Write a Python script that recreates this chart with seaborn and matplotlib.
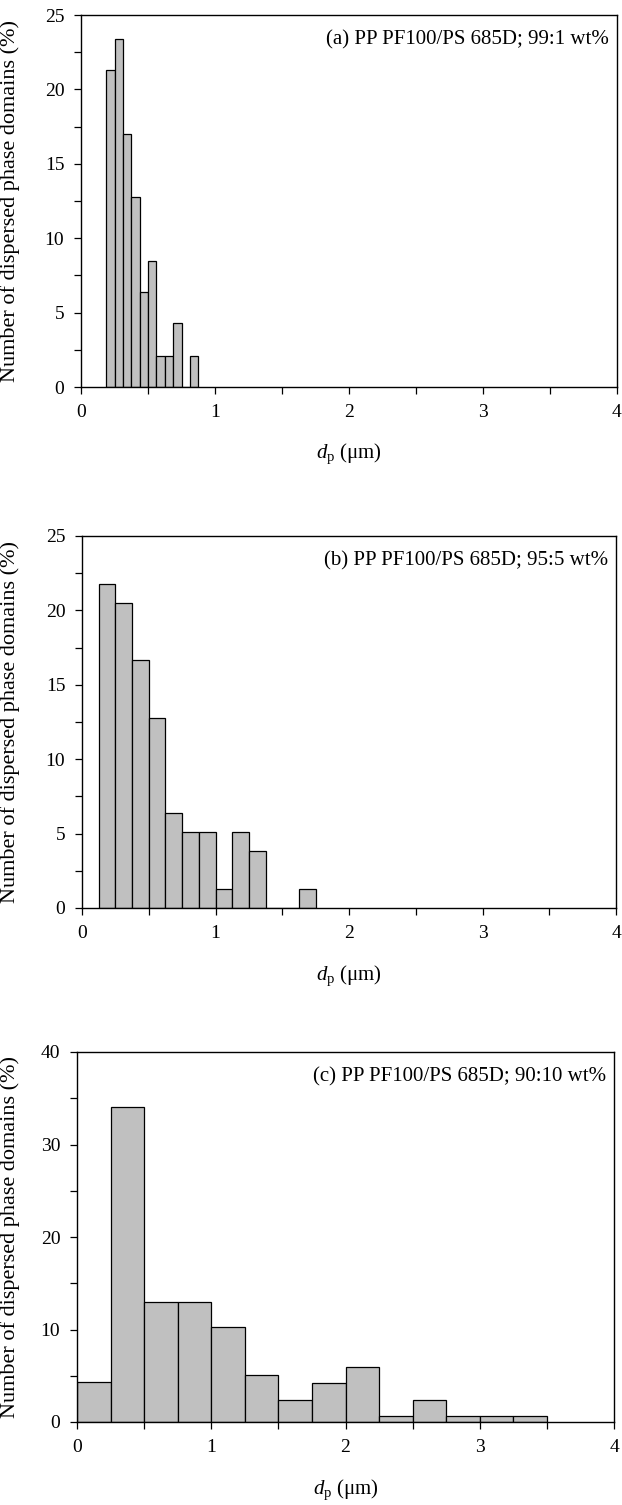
import matplotlib
matplotlib.use("Agg")
import matplotlib.pyplot as plt
from matplotlib.ticker import MultipleLocator
import seaborn as sns

# ---- data: size distributions of the dispersed PS phase (percent of domains per size class) ----
# (a) PP PF100/PS 685D; 99:1 wt%
a_edges = [0.1875, 0.25, 0.3125, 0.375, 0.4375, 0.5, 0.5625, 0.625, 0.6875, 0.75, 0.8125, 0.875]
a_centers = [0.21875, 0.28125, 0.34375, 0.40625, 0.46875, 0.53125, 0.59375, 0.65625,
             0.71875, 0.78125, 0.84375]
a_pct = [21.3, 23.4, 17.0, 12.8, 6.4, 8.5, 2.1, 2.1, 4.3, 0.0, 2.1]

# (b) PP PF100/PS 685D; 95:5 wt%
b_edges = [0.125, 0.25, 0.375, 0.5, 0.625, 0.75, 0.875, 1.0, 1.125, 1.25, 1.375, 1.5, 1.625, 1.75]
b_centers = [0.1875, 0.3125, 0.4375, 0.5625, 0.6875, 0.8125, 0.9375, 1.0625, 1.1875,
             1.3125, 1.4375, 1.5625, 1.6875]
b_pct = [21.8, 20.5, 16.7, 12.8, 6.4, 5.1, 5.1, 1.3, 5.1, 3.8, 0.0, 0.0, 1.3]

# (c) PP PF100/PS 685D; 90:10 wt%
c_edges = [0.0, 0.25, 0.5, 0.75, 1.0, 1.25, 1.5, 1.75, 2.0, 2.25, 2.5, 2.75, 3.0, 3.25, 3.5]
c_centers = [0.125, 0.375, 0.625, 0.875, 1.125, 1.375, 1.625, 1.875, 2.125, 2.375,
             2.625, 2.875, 3.125, 3.375]
c_pct = [4.3, 34.1, 13.0, 13.0, 10.3, 5.1, 2.4, 4.2, 5.9, 0.7, 2.4, 0.6, 0.6, 0.6]

titles = ["(a) PP PF100/PS 685D; 99:1 wt%",
          "(b) PP PF100/PS 685D; 95:5 wt%",
          "(c) PP PF100/PS 685D; 90:10 wt%"]
y_max = [25, 25, 40]
y_major = [5, 5, 10]

sns.set_theme(style="ticks")
plt.rcParams["font.family"] = ["Liberation Serif", "DejaVu Serif"]
plt.rcParams["mathtext.fontset"] = "custom"
plt.rcParams["mathtext.rm"] = "Liberation Serif"
plt.rcParams["mathtext.it"] = "Liberation Serif:italic"

W, H = 622, 1505
fig = plt.figure(figsize=(W / 100, H / 100), dpi=100)

# axes boxes in pixels: left, right, top, bottom
boxes = [(81, 617, 15, 387), (82, 616, 536, 908), (77, 614, 1052, 1422)]
datasets = [(a_centers, a_pct, a_edges), (b_centers, b_pct, b_edges), (c_centers, c_pct, c_edges)]

bar_grey = "#c0c0c0"
for (l, r, t, b), (cx, pct, edges), title, ymax, ymaj in zip(boxes, datasets, titles, y_max, y_major):
    ax = fig.add_axes([l / W, 1 - b / H, (r - l) / W, (b - t) / H])
    sns.histplot(x=cx, weights=pct, bins=edges, ax=ax, color=bar_grey,
                 edgecolor="black", linewidth=0.9, alpha=1.0)
    ax.set_xlim(0, 4)
    ax.set_ylim(0, ymax)
    ax.xaxis.set_major_locator(MultipleLocator(1))
    ax.xaxis.set_minor_locator(MultipleLocator(0.5))
    ax.yaxis.set_major_locator(MultipleLocator(ymaj))
    ax.yaxis.set_minor_locator(MultipleLocator(ymaj / 2))
    ax.tick_params(axis="both", which="major", direction="out", length=5, width=0.9,
                   color="black", labelsize=14, labelcolor="black")
    ax.tick_params(axis="both", which="minor", direction="out", length=5, width=0.9, color="black")
    ax.tick_params(axis="x", which="major", pad=7)
    ax.tick_params(axis="y", which="major", pad=7)
    for sp in ax.spines.values():
        sp.set_visible(True)
        sp.set_color("black")
        sp.set_linewidth(1.0)

    h = b - t
    w = r - l
    ax.set_ylabel("Number of dispersed phase domains (%)", fontsize=16, color="black")
    ax.yaxis.set_label_coords((20 - l) / w, 0.5)
    ax.set_xlabel(r"$d_{\mathrm{p}}$ (μm)", fontsize=15, color="black")
    ax.xaxis.set_label_coords(0.5, -55 / h)
    ax.text(0.985, 1 - 25 / h, title, transform=ax.transAxes, ha="right", va="center",
            fontsize=15, color="black")

fig.savefig("out.png", dpi=100, facecolor="white")
